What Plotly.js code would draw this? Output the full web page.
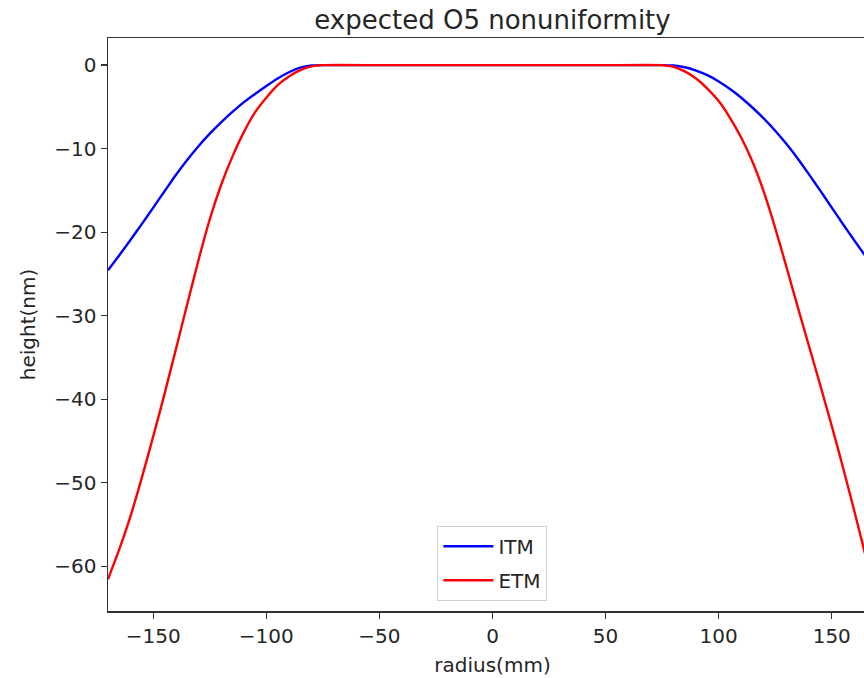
<!DOCTYPE html>
<html>
<head>
<meta charset="utf-8">
<script src="https://cdn.plot.ly/plotly-3.0.1.min.js"></script>
<style>
html, body { margin: 0; padding: 0; overflow: hidden; background: #fff; width: 864px; height: 678px; }
#chart { width: 900px; height: 678px; }
</style>
</head>
<body>
<div id="chart"></div>
<script>
// ITM profile: radius (mm) and height (nm)
const itmRadius = [-170, -165, -160, -155, -150, -145, -140, -135, -130, -125, -120, -115, -110, -105, -100, -95, -90, -85, -80, -75,
  -50, -25, 0, 25, 50,
  75, 80, 85, 90, 95, 100, 105, 110, 115, 120, 125, 130, 135, 140, 145, 150, 155, 160, 165];
const itmHeight = [-24.55, -22.75, -20.9, -19.0, -17.05, -15.1, -13.15, -11.35, -9.7, -8.2, -6.85, -5.6, -4.45, -3.45, -2.5, -1.6, -0.85, -0.3, -0.05, 0,
  0, 0, 0, 0, 0,
  0, -0.05, -0.25, -0.65, -1.2, -1.95, -2.85, -3.9, -5.1, -6.4, -7.85, -9.45, -11.2, -13.1, -15.05, -17.05, -19.05, -21.0, -22.9];

// ETM profile: radius (mm) and height (nm)
const etmRadius = [-170, -165, -160, -155, -150, -145, -140, -135, -130, -125, -120, -115, -110, -105, -100, -95, -90, -85, -80, -75,
  -50, -25, 0, 25, 50,
  75, 80, 85, 90, 95, 100, 105, 110, 115, 120, 125, 130, 135, 140, 145, 150, 155, 160, 165];
const etmHeight = [-61.55, -57.95, -53.95, -49.35, -44.45, -39.35, -34.05, -28.65, -23.35, -18.45, -14.35, -10.95, -8.05, -5.65, -3.9, -2.4, -1.35, -0.6, -0.15, 0,
  0, 0, 0, 0, 0,
  0, -0.2, -0.75, -1.6, -2.8, -4.3, -6.3, -8.7, -11.6, -15.2, -19.5, -24.2, -29.0, -33.7, -38.4, -43.2, -48.2, -53.4, -58.8];

const xTicks = [-150, -100, -50, 0, 50, 100, 150];
const yTicks = [0, -10, -20, -30, -40, -50, -60];

const fontFam = 'DejaVu Sans, sans-serif';
const txtColor = '#262626';

const traces = [
  { x: itmRadius, y: itmHeight, name: 'ITM', legendgroup: 'a', mode: 'lines', line: { color: '#0000ff', width: 2.4, shape: 'spline', smoothing: 0.5 } },
  { x: etmRadius, y: etmHeight, name: 'ETM', legendgroup: 'b', mode: 'lines', line: { color: '#ff0000', width: 2.4, shape: 'spline', smoothing: 0.5 } }
];

const axisCommon = {
  showline: true, mirror: true, linecolor: '#333', linewidth: 1.5,
  ticks: 'outside', ticklen: 6, tickwidth: 1.4, tickcolor: '#333',
  showgrid: false, zeroline: false,
  tickfont: { family: fontFam, size: 20, color: txtColor }
};

const layout = {
  width: 900, height: 678,
  margin: { l: 107.5, r: 23.3, t: 37.5, b: 67 },
  paper_bgcolor: '#fff', plot_bgcolor: '#fff',
  font: { family: fontFam, color: txtColor },
  title: { text: 'expected O5 nonuniformity', font: { family: fontFam, size: 26, color: txtColor },
           xref: 'paper', x: 0.5, xanchor: 'center', yref: 'container', y: 0.971, yanchor: 'middle' },
  xaxis: Object.assign({}, axisCommon, {
    range: [-170, 170], tickvals: xTicks, ticktext: xTicks.map(v => v < 0 ? '\u2212' + Math.abs(v) : String(v)),
    title: { text: 'radius(mm)', font: { family: fontFam, size: 20, color: txtColor }, standoff: 11 }
  }),
  yaxis: Object.assign({}, axisCommon, {
    range: [-65.35, 3.25], tickvals: yTicks, ticktext: yTicks.map(v => v < 0 ? '\u2212' + Math.abs(v) : String(v)),
    title: { text: 'height(nm)', font: { family: fontFam, size: 20, color: txtColor }, standoff: 13 }
  }),
  showlegend: true,
  legend: {
    x: (492 - 107.5) / (876.7 - 107.5), xanchor: 'center', y: 0.018, yanchor: 'bottom',
    bgcolor: '#fff', bordercolor: '#d0d0d0', borderwidth: 1,
    traceorder: 'grouped', tracegroupgap: 5, itemwidth: 50,
    font: { family: fontFam, size: 20, color: txtColor }
  }
};

Plotly.newPlot('chart', traces, layout, { displayModeBar: false, staticPlot: true });
</script>
</body>
</html>
